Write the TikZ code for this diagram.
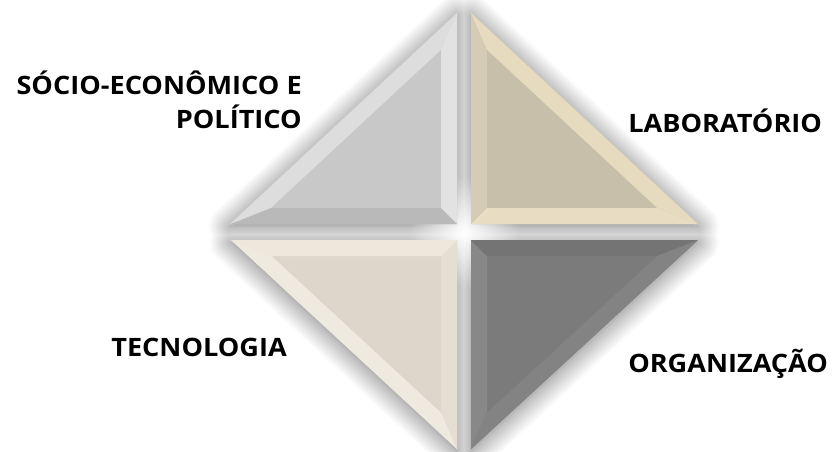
\documentclass[tikz,border=0pt]{standalone}
\usepackage{fontspec}
\setmainfont{Open Sans}[FakeStretch=1.07]
\usepackage{tikz}
\usetikzlibrary{calc, shadows.blur, fadings}
\tikzstyle{caption} = [inner sep=0pt, font=\bfseries\fontsize{19}{25.5}\selectfont, text=black]
\tikzfading[name=glow fade, inner color=transparent!0, outer color=transparent!100]
\definecolor{tlface}{HTML}{C8C8C8}
\definecolor{tlvert}{HTML}{E2E2E2}
\definecolor{tlhorz}{HTML}{B9B9B9}
\definecolor{tlslant}{HTML}{DDDDDD}
\definecolor{trface}{HTML}{C8BFAB}
\definecolor{trvert}{HTML}{D6CCB5}
\definecolor{trhorz}{HTML}{E8DDC2}
\definecolor{trslant}{HTML}{E6DBBF}
\definecolor{blface}{HTML}{DDD6CB}
\definecolor{blvert}{HTML}{E4DED3}
\definecolor{blhorz}{HTML}{EEE8DC}
\definecolor{blslant}{HTML}{EFEAE0}
\definecolor{brface}{HTML}{7B7B7B}
\definecolor{brvert}{HTML}{888888}
\definecolor{brhorz}{HTML}{747474}
\definecolor{brslant}{HTML}{838383}
% bevelled triangle: tip on the vertical leg, right angle, tip on the horizontal leg, inset centre, prefix of colours
\newcommand{\bevelpiece}[5]{%
  \fill[#5face] (#1) -- (#2) -- (#3) -- cycle;
  \fill[#5vert] (#1) -- (#2) -- ($(#4)!0.75!(#2)$) -- ($(#4)!0.75!(#1)$) -- cycle;
  \fill[#5horz] (#2) -- (#3) -- ($(#4)!0.75!(#3)$) -- ($(#4)!0.75!(#2)$) -- cycle;
  \fill[#5slant] (#3) -- (#1) -- ($(#4)!0.75!(#1)$) -- ($(#4)!0.75!(#3)$) -- cycle;
}

\begin{document}
\begin{tikzpicture}[x=0.75pt, y=-0.75pt]
    \useasboundingbox (0,0) rectangle (832,451);

    % Define corners of the four pieces
    \coordinate (tlTop) at (457,13);
    \coordinate (tlCorner) at (457,224);
    \coordinate (tlLeft) at (230,224);
    \coordinate (tlMid) at (393,160);

    \coordinate (trTop) at (471,13);
    \coordinate (trCorner) at (471,224);
    \coordinate (trRight) at (698,224);
    \coordinate (trMid) at (535,160);

    \coordinate (blBottom) at (457,449);
    \coordinate (blCorner) at (457,240);
    \coordinate (blLeft) at (231,240);
    \coordinate (blMid) at (393,304);

    \coordinate (brBottom) at (471,449);
    \coordinate (brCorner) at (471,240);
    \coordinate (brRight) at (698,240);
    \coordinate (brMid) at (535,304);

    \coordinate (centre) at (464,232);

    % Soft shadow under all pieces
    \path[blur shadow={shadow xshift=0pt, shadow yshift=-2pt, shadow blur radius=16pt, shadow blur steps=12, shadow opacity=55}]
      (tlTop) -- (tlCorner) -- (tlLeft) -- cycle
      (trTop) -- (trCorner) -- (trRight) -- cycle
      (blBottom) -- (blCorner) -- (blLeft) -- cycle
      (brBottom) -- (brCorner) -- (brRight) -- cycle;

    % White glow in the middle of the cross
    \fill[white, path fading=glow fade] (centre) circle (55);

    % Pieces
    \bevelpiece{tlTop}{tlCorner}{tlLeft}{tlMid}{tl}
    \bevelpiece{trTop}{trCorner}{trRight}{trMid}{tr}
    \bevelpiece{blBottom}{blCorner}{blLeft}{blMid}{bl}
    \bevelpiece{brBottom}{brCorner}{brRight}{brMid}{br}

    % Labels
    \node[caption, align=right, anchor=east] (socio) at (302,100) {SÓCIO-ECONÔMICO E\\POLÍTICO};
    \node[caption, anchor=base west] (lab) at (628,132) {LABORATÓRIO};
    \node[caption, anchor=base east] (tec) at (287,356) {TECNOLOGIA};
    \node[caption, anchor=base west] (org) at (628,372) {ORGANIZAÇÃO};
\end{tikzpicture}
\end{document}
